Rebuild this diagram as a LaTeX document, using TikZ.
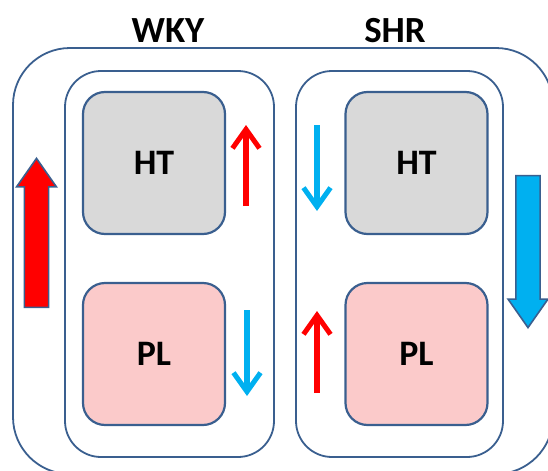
\documentclass[tikz,border=0pt]{standalone}
\usepackage{fontspec}
\setmainfont{Carlito}
\usepackage{tikz}
\usetikzlibrary{arrows.meta,shapes.arrows}

\definecolor{edgeblue}{HTML}{3A5F8F}
\definecolor{htgray}{HTML}{D9D9D9}
\definecolor{plpink}{HTML}{FBCACA}
\definecolor{upred}{HTML}{FF0000}
\definecolor{downblue}{HTML}{00B0F0}

\tikzset{
  frame/.style={draw=edgeblue,line width=1.8bp,rounded corners=#1},
  tissue/.style={draw=edgeblue,line width=2.2bp,rounded corners=22bp,minimum size=142bp,
    font=\fontsize{36}{42}\selectfont\bfseries},
  thin/.style={line width=5.5bp,-{Straight Barb[length=19bp,width=27bp,line width=5bp]}},
  bigarrow/.style={single arrow,draw=edgeblue,line width=1.6bp,inner sep=10bp,
    minimum width=40bp,single arrow tip angle=70}
}

\begin{document}
\begin{tikzpicture}
\useasboundingbox (0bp,0bp) rectangle (548bp,-471bp);
\clip (0bp,0bp) rectangle (548bp,-471bp);

\node (WKY) at (168bp,-31bp)[font=\fontsize{37}{42}\selectfont\bfseries] {WKY};
\node (SHR) at (395bp,-31bp)[font=\fontsize{37}{42}\selectfont\bfseries] {SHR};

\node (outer) at (283bp,-261bp)[frame=57bp,minimum width=540bp,minimum height=426bp] {};
\node (boxW) at (169.5bp,-264bp)[frame=36bp,minimum width=209bp,minimum height=386bp] {};
\node (boxS) at (399.5bp,-264bp)[frame=36bp,minimum width=207bp,minimum height=386bp] {};

\node (HT1) at (154bp,-163bp)[tissue,fill=htgray] {HT};
\node (PL1) at (154bp,-354bp)[tissue,fill=plpink] {PL};
\node (HT2) at (416.5bp,-163bp)[tissue,fill=htgray] {HT};
\node (PL2) at (416.5bp,-354bp)[tissue,fill=plpink] {PL};

% small arrows beside the boxes
\coordinate (a1) at (246bp,-206bp);
\coordinate (b1) at (246bp,-125bp);
\coordinate (a2) at (247bp,-310bp);
\coordinate (b2) at (247bp,-396bp);
\coordinate (a3) at (317bp,-125bp);
\coordinate (b3) at (317bp,-211bp);
\coordinate (a4) at (317bp,-393bp);
\coordinate (b4) at (317bp,-311bp);
\draw [thin,upred] (a1) -- (b1);
\draw [thin,downblue] (a2) -- (b2);
\draw [thin,downblue] (a3) -- (b3);
\draw [thin,upred] (a4) -- (b4);

% large arrows at the sides
\node (upW) at (36.5bp,-241.5bp)[bigarrow,fill=upred,rotate=90,minimum height=149bp] {};
\node (downS) at (528bp,-243bp)[bigarrow,fill=downblue,rotate=-90,minimum height=152bp] {};
\end{tikzpicture}
\end{document}
